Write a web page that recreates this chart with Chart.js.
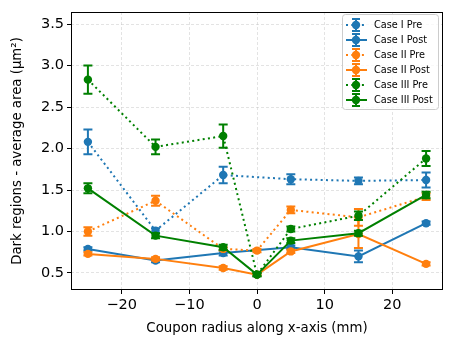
<!DOCTYPE html>
<html>
<head>
<meta charset="utf-8">
<script src="https://cdn.jsdelivr.net/npm/chart.js@4/dist/chart.umd.min.js"></script>
<style>
  html, body { margin: 0; padding: 0; background: #fff; }
  #wrap { width: 454px; height: 348px; }
</style>
</head>
<body>
<div id="wrap"><canvas id="chart" width="454" height="348"></canvas></div>
<script>
// data
const xValues = [-25, -15, -5, 0, 5, 15, 25];
const seriesNames = ['Case I Pre', 'Case I Post', 'Case II Pre', 'Case II Post', 'Case III Pre', 'Case III Post'];
const case1Pre = [2.08, 1.01, 1.68, null, 1.63, 1.61, 1.62];
const case1PreErr = [0.15, 0.03, 0.10, null, 0.06, 0.04, 0.09];
const case1Post = [0.79, 0.65, 0.74, null, 0.81, 0.70, 1.10];
const case1PostErr = [0.02, 0.02, 0.03, null, 0.02, 0.07, 0.02];
const case2Pre = [1.00, 1.37, 0.79, 0.77, 1.26, 1.17, 1.42];
const case2PreErr = [0.05, 0.06, 0.02, 0.02, 0.04, 0.10, 0.04];
const case2Post = [0.73, 0.67, 0.56, 0.48, 0.76, 0.97, 0.61];
const case2PostErr = [0.02, 0.02, 0.02, 0.01, 0.02, 0.17, 0.02];
const case3Pre = [2.83, 2.02, 2.15, 0.48, 1.03, 1.19, 1.88];
const case3PreErr = [0.17, 0.09, 0.14, 0.02, 0.03, 0.05, 0.09];
const case3Post = [1.52, 0.95, 0.81, 0.48, 0.89, 0.98, 1.44];
const case3PostErr = [0.06, 0.03, 0.03, 0.02, 0.03, 0.03, 0.04];

const colors = ['#1f77b4', '#1f77b4', '#ff7f0e', '#ff7f0e', '#008000', '#008000'];
const dotted = [true, false, true, false, true, false];
const values = [case1Pre, case1Post, case2Pre, case2Post, case3Pre, case3Post];
const errors = [case1PreErr, case1PostErr, case2PreErr, case2PostErr, case3PreErr, case3PostErr];
const DOT = [2, 3.3];

const datasets = seriesNames.map((name, i) => ({
    label: name,
    data: xValues.map((x, j) => ({ x: x, y: values[i][j] })),
    errs: errors[i],
    borderColor: colors[i],
    backgroundColor: colors[i],
    borderWidth: 2,
    borderDash: dotted[i] ? DOT : [],
    borderCapStyle: 'butt',
    pointRadius: 4.2,
    pointBorderWidth: 0,
    pointHoverRadius: 4.2,
    pointBackgroundColor: colors[i],
    spanGaps: true,
    tension: 0,
    order: 5 - i
}));

// vertical error bars with caps, drawn under each dataset's line
const errorBars = {
    id: 'errorBars',
    beforeDatasetDraw(chart, args) {
        const ds = chart.data.datasets[args.index];
        const xs = chart.scales.x, ys = chart.scales.y;
        const ctx = chart.ctx;
        ctx.save();
        ctx.strokeStyle = ds.borderColor;
        ctx.lineWidth = 2;
        ctx.setLineDash([]);
        ds.data.forEach((p, j) => {
            const e = ds.errs[j];
            if (p.y == null || e == null) return;
            const px = xs.getPixelForValue(p.x);
            const top = ys.getPixelForValue(p.y + e);
            const bot = ys.getPixelForValue(p.y - e);
            ctx.beginPath();
            ctx.moveTo(px, top); ctx.lineTo(px, bot);
            ctx.moveTo(px - 4.5, top); ctx.lineTo(px + 4.5, top);
            ctx.moveTo(px - 4.5, bot); ctx.lineTo(px + 4.5, bot);
            ctx.stroke();
        });
        ctx.restore();
    }
};

// frame around plot area plus matplotlib-like legend box
const frameLegend = {
    id: 'frameLegend',
    afterDraw(chart) {
        const ctx = chart.ctx;
        const a = chart.chartArea;
        ctx.save();
        ctx.strokeStyle = '#000';
        ctx.lineWidth = 1;
        ctx.setLineDash([]);
        ctx.strokeRect(Math.round(a.left) + 0.5, Math.round(a.top) + 0.5,
            Math.round(a.right - a.left) - 1, Math.round(a.bottom - a.top) - 1);

        const bx = 342, by = 14, bw = 96, bh = 95;
        ctx.beginPath();
        ctx.roundRect(bx + 0.5, by + 0.5, bw, bh, 3);
        ctx.fillStyle = 'rgba(255,255,255,0.8)';
        ctx.fill();
        ctx.strokeStyle = '#cccccc';
        ctx.stroke();

        ctx.font = '9.7px "DejaVu Sans"';
        ctx.textBaseline = 'middle';
        seriesNames.forEach((name, i) => {
            const cy = 25 + i * 15;
            ctx.strokeStyle = colors[i];
            ctx.fillStyle = colors[i];
            ctx.lineWidth = 2;
            ctx.setLineDash(dotted[i] ? DOT : []);
            ctx.beginPath();
            ctx.moveTo(346, cy); ctx.lineTo(367, cy);
            ctx.stroke();
            ctx.setLineDash([]);
            ctx.beginPath();
            ctx.moveTo(356, cy - 6); ctx.lineTo(356, cy + 6);
            ctx.moveTo(352, cy - 6); ctx.lineTo(360, cy - 6);
            ctx.moveTo(352, cy + 6); ctx.lineTo(360, cy + 6);
            ctx.stroke();
            ctx.beginPath();
            ctx.arc(356, cy, 4.2, 0, Math.PI * 2);
            ctx.fill();
            ctx.fillStyle = '#000';
            ctx.fillText(name, 374, cy + 0.5);
        });
        ctx.restore();
    }
};

const minus = v => (v < 0 ? '\u2212' + Math.abs(v) : String(v));

new Chart(document.getElementById('chart').getContext('2d'), {
    type: 'line',
    data: { datasets: datasets },
    options: {
        responsive: false,
        animation: false,
        events: [],
        layout: { padding: { left: 0, right: 11, top: 12, bottom: 0 } },
        plugins: { legend: { display: false }, tooltip: { enabled: false } },
        scales: {
            x: {
                type: 'linear',
                min: -27.5,
                max: 27.5,
                afterFit: s => { s.height = 58; },
                ticks: {
                    stepSize: 10,
                    includeBounds: false,
                    color: '#000',
                    padding: 3,
                    maxRotation: 0,
                    font: { family: 'DejaVu Sans', size: 14.5 },
                    callback: v => minus(v)
                },
                grid: {
                    color: 'rgba(190,190,190,0.55)',
                    lineWidth: 0.8,
                    tickColor: '#000',
                    tickLength: 4,
                    tickWidth: 1,
                    tickBorderDash: []
                },
                border: { display: false, dash: [3, 2] },
                title: {
                    display: true,
                    text: 'Coupon radius along x-axis (mm)',
                    color: '#000',
                    font: { family: 'DejaVu Sans', size: 13.3 },
                    padding: { top: 0, bottom: 11 }
                }
            },
            y: {
                type: 'linear',
                min: 0.295,
                max: 3.645,
                afterFit: s => { s.width = 71; },
                ticks: {
                    stepSize: 0.5,
                    includeBounds: false,
                    color: '#000',
                    padding: 3,
                    font: { family: 'DejaVu Sans', size: 14.5 },
                    callback: v => v.toFixed(1)
                },
                grid: {
                    color: 'rgba(190,190,190,0.55)',
                    lineWidth: 0.8,
                    tickColor: '#000',
                    tickLength: 4,
                    tickWidth: 1,
                    tickBorderDash: []
                },
                border: { display: false, dash: [3, 2] },
                title: {
                    display: true,
                    text: 'Dark regions - average area (\u03bcm\u00b2)',
                    color: '#000',
                    font: { family: 'DejaVu Sans', size: 13.3 },
                    padding: { top: 10, bottom: 0 }
                }
            }
        }
    },
    plugins: [errorBars, frameLegend]
});
</script>
</body>
</html>
